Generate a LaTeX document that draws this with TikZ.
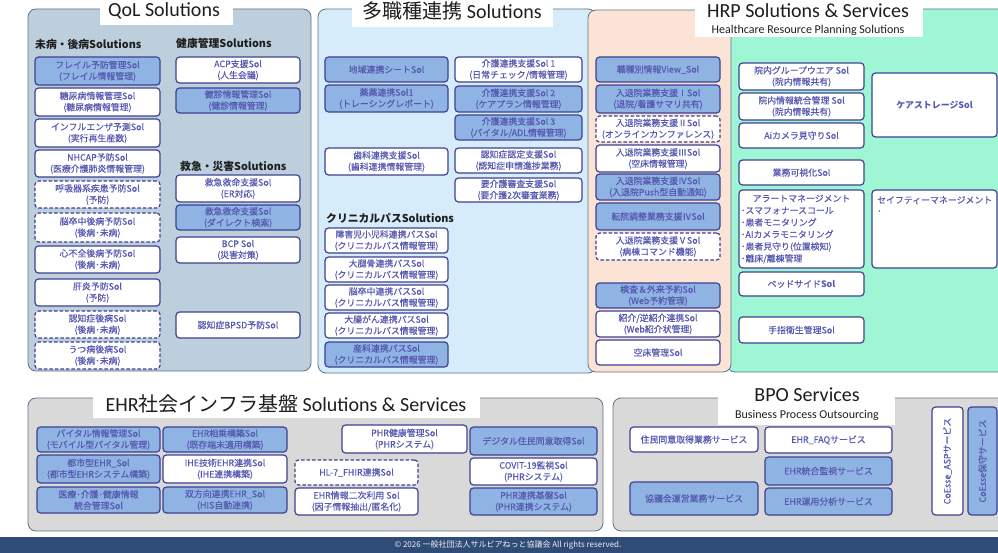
\documentclass[tikz,border=0pt]{standalone}
\usepackage{fontspec}
\setmainfont{Noto Sans CJK JP}
\newfontfamily\cjkfont{Noto Sans CJK JP}
\newfontface\boxfont{Noto Sans CJK JP}[FakeBold=0.35]
\newfontfamily\latinfont{Carlito}
\definecolor{bordc}{HTML}{3E4191}
\definecolor{txtc}{HTML}{5659B0}
\definecolor{fillc}{HTML}{8FB3E2}
\definecolor{qolbg}{HTML}{BDCFDC}
\definecolor{multibg}{HTML}{D6ECFA}
\definecolor{peachbg}{HTML}{FBE4D6}
\definecolor{mintbg}{HTML}{9FF6D4}
\definecolor{graybg}{HTML}{D9D9D9}
\definecolor{panelc}{HTML}{5F7389}
\definecolor{footc}{HTML}{2F4B78}
\definecolor{titlec}{HTML}{1E1E1E}
\tikzset{
  sol/.style={rectangle, rounded corners=3.5pt, draw=bordc, line width=1.2pt, text=txtc,
    font=\boxfont\fontsize{8.9}{11.3}\selectfont, align=center, inner sep=0pt},
  solw/.style={sol, fill=white},
  solf/.style={sol, fill=fillc},
  sold/.style={sol, fill=white, dash pattern=on 3.5pt off 2pt},
  panel/.style={draw=panelc, line width=0.8pt, rounded corners=8pt},
  subhead/.style={font=\fontsize{10.8}{12}\selectfont\bfseries, text=titlec, anchor=west, inner sep=0pt},
  ttl/.style={font=\fontsize{20}{22}\selectfont, text=titlec, inner sep=0pt},
  subttl/.style={font=\latinfont\fontsize{12}{13}\selectfont, text=titlec, inner sep=0pt},
}
\newcommand\solbox[7]{\node[#6, minimum width={#4pt-#2pt}, minimum height={#5pt-#3pt}] (#1) at ({(#2+#4)/2},{(#3+#5)/2}) {#7};}
\begin{document}
\begin{tikzpicture}[x=1pt,y=-1pt]
\useasboundingbox (0,0) rectangle (998,553);
\fill[white] (0,0) rectangle (998,553);
% ---------- panels ----------
\draw[panel, fill=qolbg] (28,9) rectangle (311,371);
\draw[panel, fill=multibg] (318,9) rectangle (596,373);
\draw[panel, fill=mintbg] (727,9) rectangle (1010,372);
\draw[panel, fill=peachbg] (588,10) rectangle (731,372);
\draw[panel, fill=graybg] (28,398) rectangle (603,531);
\draw[panel, fill=graybg] (613,398) rectangle (1010,531);
% title covers
\fill[white] (100,0) rectangle (233,25);
\fill[white] (352,0) rectangle (553,27);
\fill[white] (695,0) rectangle (923,37);
\fill[white] (93,385) rectangle (480,418);
\fill[white] (718,375) rectangle (895,425);
\node[ttl] (tqol) at (164,11) {\latinfont QoL Solutions};
\node[ttl] (tmulti) at (452,11) {\cjkfont 多職種連携\latinfont{} Solutions};
\node[ttl] (thrp) at (808,11) {\latinfont HRP Solutions \& Services};
\node[subttl] (thrps) at (808,30) {Healthcare Resource Planning Solutions};
\node[ttl] (tehr) at (286,404) {\latinfont EHR\cjkfont 社会インフラ基盤\latinfont{} Solutions \& Services};
\node[ttl] (tbpo) at (807,395) {\latinfont BPO Services};
\node[subttl] (tbpos) at (807,415) {Business Process Outsourcing};
% ---------- QoL ----------
\node[subhead] (sh1) at (35,44) {未病・後病Solutions};
\node[subhead] (sh2) at (176,43) {健康管理Solutions};
\node[subhead] (sh3) at (180,166) {救急・災害Solutions};
\solbox{q1}{35}{57}{160}{85}{solf}{フレイル予防管理Sol\\(フレイル情報管理)}
\solbox{q2}{35}{88}{160}{116}{solw}{糖尿病情報管理Sol\\(糖尿病情報管理)}
\solbox{q3}{35}{119}{160}{147}{solw}{インフルエンザ予測Sol\\(実行再生産数)}
\solbox{q4}{35}{150}{160}{177}{solw}{NHCAP予防Sol\\(医療介護肺炎情報管理)}
\solbox{q5}{35}{181}{160}{208}{sold}{呼吸器系疾患予防Sol\\(予防)}
\solbox{q6}{35}{213}{160}{242}{sold}{脳卒中後病予防Sol\\(後病･未病)}
\solbox{q7}{35}{246}{160}{273}{solw}{心不全後病予防Sol\\(後病･未病)}
\solbox{q8}{35}{279}{160}{306}{solw}{肝炎予防Sol\\(予防)}
\solbox{q9}{35}{311}{160}{338}{sold}{認知症後病Sol\\(後病･未病)}
\solbox{q10}{35}{342}{160}{369}{sold}{うつ病後病Sol\\(後病･未病)}
\solbox{r1}{176}{57}{300}{83}{solw}{ACP支援Sol\\(人生会議)}
\solbox{r2}{176}{88}{300}{113}{solf}{健診情報管理Sol\\(健診情報管理)}
\solbox{r3}{176}{175}{300}{202}{solw}{救急救命支援Sol\\(ER対応)}
\solbox{r4}{176}{205}{300}{230}{solf}{救急救命支援Sol\\(ダイレクト検索)}
\solbox{r5}{176}{237}{300}{263}{solw}{BCP Sol\\(災害対策)}
\solbox{r6}{176}{312}{300}{338}{solw}{認知症BPSD予防Sol}
% ---------- multi ----------
\solbox{m1}{325}{57}{448}{82}{solf}{地域連携シートSol}
\solbox{m2}{325}{85}{448}{112}{solf}{薬薬連携Sol1\\(トレーシングレポート)}
\solbox{m3}{325}{148}{448}{175}{solw}{歯科連携支援Sol\\(歯科連携情報管理)}
\solbox{m4}{455}{57}{582}{82}{solw}{介護連携支援Sol 1\\(日常チェック/情報管理)}
\solbox{m5}{455}{86}{582}{112}{solf}{介護連携支援Sol 2\\(ケアプラン情報管理)}
\solbox{m6}{455}{115}{582}{140}{solf}{介護連携支援Sol 3\\(バイタル/ADL情報管理)}
\solbox{m7}{455}{148}{582}{173}{solw}{認知症認定支援Sol\\(認知症申請進捗業務)}
\solbox{m8}{455}{178}{582}{202}{solw}{要介護審査支援Sol\\(要介護2次審査業務)}
\node[subhead] (sh4) at (326,218) {クリニカルパスSolutions};
\solbox{c1}{325}{228}{448}{253}{solw}{障害児小児科連携パスSol\\(クリニカルパス情報管理)}
\solbox{c2}{325}{257}{448}{282}{solw}{大腿骨連携パスSol\\(クリニカルパス情報管理)}
\solbox{c3}{325}{285}{448}{310}{solw}{脳卒中連携パスSol\\(クリニカルパス情報管理)}
\solbox{c4}{325}{313}{448}{338}{solw}{大腸がん連携パスSol\\(クリニカルパス情報管理)}
\solbox{c5}{325}{342}{448}{367}{solf}{産科連携パスSol\\(クリニカルパス情報管理)}
% ---------- HRP peach ----------
\solbox{h1}{596}{57}{720}{82}{solf}{職種別情報View\_Sol}
\solbox{h2}{596}{85}{720}{113}{solf}{入退院業務支援ⅠSol\\(退院/看護サマリ共有)}
\solbox{h3}{596}{116}{720}{142}{sold}{入退院業務支援ⅡSol\\(オンラインカンファレンス)}
\solbox{h4}{596}{145}{720}{172}{solw}{入退院業務支援ⅢSol\\(空床情報管理)}
\solbox{h5}{596}{174}{720}{200}{solf}{入退院業務支援ⅣSol\\(入退院Push型自動通知)}
\solbox{h6}{596}{203}{720}{230}{solf}{転院調整業務支援ⅣSol}
\solbox{h7}{596}{233}{720}{260}{sold}{入退院業務支援ⅤSol\\(病棟コマンド機能)}
\solbox{h8}{596}{283}{720}{308}{solf}{検査＆外来予約Sol\\(Web予約管理)}
\solbox{h9}{596}{311}{720}{337}{solw}{紹介/逆紹介連携Sol\\(Web紹介状管理)}
\solbox{h10}{596}{340}{720}{365}{solw}{空床管理Sol}
% ---------- HRP green ----------
\solbox{g1}{739}{63}{864}{90}{solw}{院内グループウエア Sol\\(院内情報共有)}
\solbox{g2}{739}{93}{864}{120}{solw}{院内情報統合管理 Sol\\(院内情報共有)}
\solbox{g3}{739}{123}{864}{148}{solw}{Aiカメラ見守りSol}
\solbox{g4}{739}{160}{864}{185}{solw}{業務可視化Sol}
\node[solw, align=left, font=\boxfont\fontsize{8.9}{12}\selectfont, minimum width=125pt, minimum height=78pt, text width=121pt] (g5) at (801.5,229)
  {\makebox[121pt][c]{アラートマネージメント}\\･スマフォナースコール\\･患者モニタリング\\･AIカメラモニタリング\\･患者見守り(位置検知)\\･離床/離棟管理};
\solbox{g6}{739}{272}{864}{296}{solw}{ベッドサイド{\cjkfont\bfseries Sol}}
\solbox{g7}{739}{317}{864}{343}{solw}{手指衛生管理Sol}
\solbox{g8}{872}{73}{997}{137}{solw}{{\cjkfont\bfseries ケアストレージSol}}
\solbox{g9}{872}{190}{997}{268}{solw}{}
\node[anchor=north west, align=left, text=txtc, font=\boxfont\fontsize{8.9}{11}\selectfont, inner sep=0pt] (g9t) at (877,196) {セイフティーマネージメント\\･};
% ---------- EHR ----------
\solbox{e1}{37}{427}{160}{452}{solf}{バイタル情報管理Sol\\(モバイル型バイタル管理)}
\solbox{e2}{37}{455}{160}{483}{solf}{都市型EHR\_Sol\\(都市型EHRシステム構築)}
\solbox{e3}{37}{487}{160}{513}{solf}{医療･介護･健康情報\\統合管理Sol}
\solbox{e4}{163}{427}{287}{452}{solf}{EHR相乗構築Sol\\(既存端末適用構築)}
\solbox{e5}{163}{455}{287}{483}{solw}{IHE技術EHR連携Sol\\(IHE連携構築)}
\solbox{e6}{163}{487}{287}{513}{solf}{双方向連携EHR\_Sol\\(HIS自動連携)}
\solbox{e7}{295}{460}{418}{485}{sold}{HL-7\_FHIR連携Sol}
\solbox{e8}{295}{488}{418}{515}{solw}{EHR情報二次利用 Sol\\(因子情報抽出/匿名化)}
\solbox{e9}{342}{425}{467}{453}{solw}{PHR健康管理Sol\\(PHRシステム)}
\solbox{e10}{470}{427}{597}{455}{solf}{デジタル住民同意取得Sol}
\solbox{e11}{470}{458}{597}{485}{solw}{COVIT-19監視Sol\\(PHRシステム)}
\solbox{e12}{470}{488}{597}{515}{solf}{PHR連携基盤Sol\\(PHR連携システム)}
% ---------- BPO ----------
\solbox{b1}{630}{427}{758}{452}{solw}{住民同意取得業務サービス}
\solbox{b2}{630}{482}{758}{515}{solf}{協議会運営業務サービス}
\solbox{b3}{765}{427}{892}{453}{solw}{EHR\_FAQサービス}
\solbox{b4}{765}{457}{892}{485}{solf}{EHR統合監視サービス}
\solbox{b5}{765}{488}{892}{515}{solf}{EHR運用分析サービス}
\node[solw, rotate=90, minimum width=108pt, minimum height=31pt] (b6) at (947.5,461) {CoEsse\_ASPサービス};
\node[solf, rotate=90, minimum width=108pt, minimum height=29pt] (b7) at (982.5,461) {CoEsse保守サービス};
% ---------- footer ----------
\fill[footc] (0,537) rectangle (998,553);
\node[text=white!92!footc, font=\fontsize{8}{9}\selectfont, inner sep=0pt] (foot) at (508,545) {© 2026 一般社団法人サルビアねっと協議会 All rights reserved.};
\end{tikzpicture}
\end{document}
